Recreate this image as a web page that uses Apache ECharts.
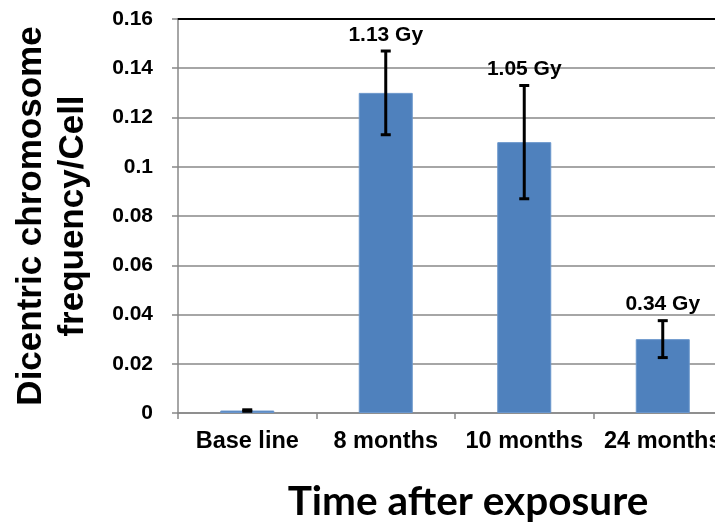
<!DOCTYPE html>
<html>
<head>
<meta charset="utf-8">
<script src="https://cdn.jsdelivr.net/npm/echarts@6/dist/echarts.min.js"></script>
<style>html,body{margin:0;padding:0;background:#fff}#c{width:715px;height:526px}</style>
</head>
<body>
<div id="c"></div>
<script>
const categories = ['Base line', '8 months', '10 months', '24 months'];
const frequency = [0.001, 0.13, 0.11, 0.03];
const errLow = [0.0007, 0.113, 0.087, 0.0225];
const errHigh = [0.0013, 0.147, 0.133, 0.0375];
const doseLabels = ['', '1.13 Gy', '1.05 Gy', '0.34 Gy'];
const yTicks = [0, 0.02, 0.04, 0.06, 0.08, 0.1, 0.12, 0.14, 0.16];

const chart = echarts.init(document.getElementById('c'), null, {renderer: 'canvas'});
const gray = '#888888';
const errData = categories.map((c, i) => [i, errLow[i], errHigh[i], doseLabels[i]]);

chart.setOption({
  animation: false,
  grid: {left: 178, top: 19, width: 554, height: 394, outerBoundsMode: 'none', containLabel: false},
  xAxis: [{
    type: 'category',
    data: categories,
    position: 'bottom',
    axisLine: {lineStyle: {color: gray, width: 1.5}},
    axisTick: {show: true, interval: 0, length: 6, lineStyle: {color: gray, width: 1.5}},
    axisLabel: {interval: 0, hideOverlap: false, color: '#000', fontFamily: 'Liberation Sans', fontWeight: 'bold', fontSize: 23.5, margin: 17},
    name: 'Time after exposure',
    nameLocation: 'middle',
    nameGap: 68,
    nameTextStyle: {color: '#000', fontFamily: 'Lato', fontWeight: 'bold', fontSize: 40.5, padding: [0, 0, 0, 26]}
  }, {
    type: 'category',
    data: categories,
    position: 'top',
    axisLine: {show: true, lineStyle: {color: '#000', width: 2}},
    axisTick: {show: false},
    axisLabel: {show: false}
  }],
  yAxis: {
    type: 'value',
    min: 0, max: 0.16, interval: 0.02,
    axisLine: {show: true, lineStyle: {color: gray, width: 1.5}},
    axisTick: {show: true, length: 6, lineStyle: {color: gray, width: 1.5}},
    axisLabel: {
      color: '#000', fontFamily: 'Liberation Sans', fontWeight: 'bold', fontSize: 21, margin: 25,
      formatter: v => {
        const t = yTicks.find(x => Math.abs(x - v) < 1e-9);
        return t === undefined ? '' : String(t);
      }
    },
    splitLine: {show: true, lineStyle: {color: gray, width: 1.5}},
    name: 'Dicentric chromosome\nfrequency/Cell',
    nameLocation: 'middle',
    nameGap: 84,
    nameTextStyle: {color: '#000', fontFamily: 'Liberation Sans', fontWeight: 'bold', fontSize: 35, lineHeight: 42, align: 'center'}
  },
  series: [{
    type: 'bar',
    data: frequency,
    barWidth: 54,
    itemStyle: {color: '#4F81BD', borderColor: '#6a96cc', borderWidth: 1},
    z: 2
  }, {
    type: 'custom',
    data: errData,
    z: 5,
    renderItem: function (params, api) {
      const x = api.coord([api.value(0), 0])[0];
      const lo = api.coord([api.value(0), api.value(1)])[1];
      const hi = api.coord([api.value(0), api.value(2)])[1];
      const half = 5;
      const children = [
        {type: 'line', shape: {x1: x, y1: hi, x2: x, y2: lo}, style: {stroke: '#000', lineWidth: 3}},
        {type: 'line', shape: {x1: x - half, y1: hi, x2: x + half, y2: hi}, style: {stroke: '#000', lineWidth: 3}},
        {type: 'line', shape: {x1: x - half, y1: lo, x2: x + half, y2: lo}, style: {stroke: '#000', lineWidth: 3}}
      ];
      const txt = doseLabels[params.dataIndex];
      if (txt) {
        children.push({
          type: 'text',
          style: {
            x: x, y: hi - 16, text: txt, align: 'center', verticalAlign: 'middle',
            fill: '#000', font: 'bold 21px "Liberation Sans"'
          }
        });
      }
      return {type: 'group', children: children};
    }
  }]
});
</script>
</body>
</html>
